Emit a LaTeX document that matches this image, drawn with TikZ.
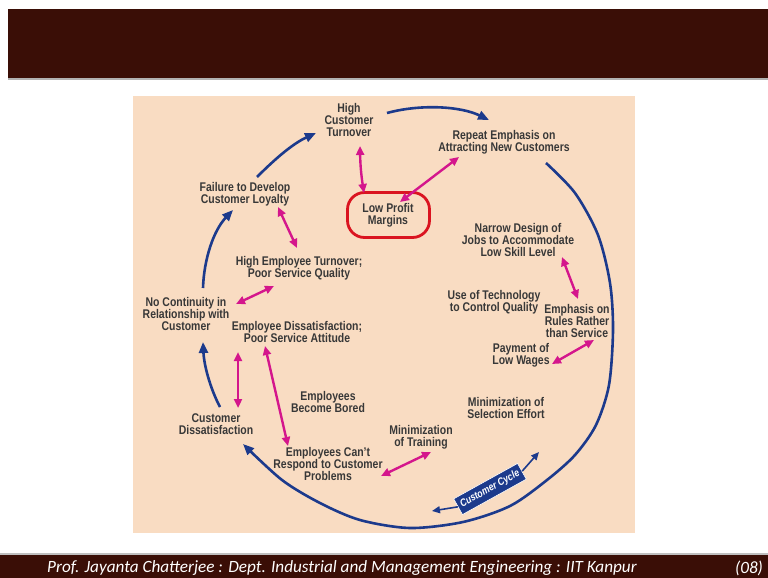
\documentclass[tikz,border=0pt]{standalone}
\usepackage{fontspec}
\setmainfont{Liberation Sans}[FakeStretch=0.83]
\newfontfamily\footfont{Carlito}
\usetikzlibrary{arrows.meta}
\definecolor{barbrown}{HTML}{3A0E06}
\definecolor{peach}{HTML}{F9DCC2}
\definecolor{cycblue}{HTML}{1C3A8C}
\definecolor{mag}{HTML}{D4168C}
\definecolor{lpred}{HTML}{DA1420}
\definecolor{txt}{HTML}{383838}
\begin{document}
\begin{tikzpicture}[x=1pt,y=-1pt,
  lab/.style={font=\bfseries\fontsize{12.6}{12.4}\selectfont, text=txt, align=center, inner sep=0pt},
  bluearr/.style={draw=cycblue, line width=2.6pt, -{Triangle[length=11pt,width=9pt]}},
  magarr/.style={draw=mag, line width=2.4pt, {Triangle[length=9pt,width=8pt]}-{Triangle[length=9pt,width=8pt]}},
]
\useasboundingbox (0,0) rectangle (768,578);
\fill[white] (0,0) rectangle (768,578);
% bars and panel
\fill[barbrown] (8,9) rectangle (768,78);
\fill[gray!60] (8,78) rectangle (768,79.5);
\fill[peach] (133,96) rectangle (635,533);
\fill[gray!50] (0,553) rectangle (768,555);
\fill[barbrown] (0,555) rectangle (768,578);
\node[font=\footfont\itshape\fontsize{17.2}{18}\selectfont, text=white, inner sep=0pt] (foot) at (342,568) {Prof. Jayanta Chatterjee : Dept. Industrial and Management Engineering : IIT Kanpur};
\node[font=\footfont\itshape\fontsize{17.2}{18}\selectfont, text=white, inner sep=0pt] (pg) at (749,568) {(08)};

% labels
\node[lab] (hct) at (349,120) {High\\Customer\\Turnover};
\node[lab] (rep) at (504,142.5) {Repeat Emphasis on\\Attracting New Customers};
\node[lab] (lpm) at (388,215.5) {Low Profit\\Margins};
\node[lab] (fdl) at (245,194) {Failure to Develop\\Customer Loyalty};
\node[lab] (nar) at (518,240) {Narrow Design of\\Jobs to Accommodate\\Low Skill Level};
\node[lab] (het) at (299,268) {High Employee Turnover;\\Poor Service Quality};
\node[lab] (nco) at (186,314) {No Continuity in\\Relationship with\\Customer};
\node[lab] (tec) at (494,302.5) {Use of Technology\\to Control Quality};
\node[lab] (rul) at (577,321) {Emphasis on\\Rules Rather\\than Service};
\node[lab] (eds) at (297,332) {Employee Dissatisfaction;\\Poor Service Attitude};
\node[lab] (pay) at (521,355) {Payment of\\Low Wages};
\node[lab] (bor) at (328,402) {Employees\\Become Bored};
\node[lab] (sel) at (506,408) {Minimization of\\Selection Effort};
\node[lab] (cds) at (216,424) {Customer\\Dissatisfaction};
\node[lab] (trn) at (421,437) {Minimization\\of Training};
\node[lab] (cant) at (328,464) {Employees Can't\\Respond to Customer\\Problems};

% red rounded box around Low Profit Margins
\node[draw=lpred, line width=2.8pt, rounded corners=17pt, minimum width=82pt, minimum height=45pt, inner sep=0pt] (lpbox) at (388.5,215) {};

% blue cycle
\coordinate (hctR) at (387,113);
\coordinate (repL) at (489,120);
\draw[bluearr] (hctR) .. controls (420,104) and (460,106) .. (repL);
\coordinate (repR) at (546,163);
\coordinate (cdsR) at (243,444);
\draw[bluearr] plot[smooth] coordinates {(repR) (575,193) (598,235) (610,283) (613,330) (609,385) (596,425) (575,455) (547,480) (510,506) (463,522) (410,528) (360,520) (320,503) (282,480) (cdsR)};
\coordinate (cdsT) at (220,407);
\coordinate (ncoB) at (203,342);
\draw[bluearr] (cdsT) .. controls (210,388) and (204,365) .. (ncoB);
\coordinate (ncoT) at (203,288);
\coordinate (fdlB) at (233,210);
\draw[bluearr] (ncoT) .. controls (204,258) and (214,230) .. (fdlB);
\coordinate (fdlT) at (257,177);
\coordinate (hctL) at (316,133);
\draw[bluearr] (fdlT) .. controls (274,160) and (292,144) .. (hctL);

% customer cycle tag
\node[fill=cycblue, draw=white, line width=0.6pt, rotate=29, minimum width=73pt, minimum height=18pt, inner sep=1pt, text=white, font=\bfseries\itshape\fontsize{10.5}{11}\selectfont] (cyc) at (490,489) {Customer Cycle};
\coordinate (cycL) at (432,511);
\coordinate (cycR) at (539,452);
\draw[draw=cycblue, line width=1.6pt, -{Triangle[length=8pt,width=7pt]}] (cyc.west) -- (cycL);
\draw[draw=cycblue, line width=1.6pt, -{Triangle[length=8pt,width=7pt]}] (cyc.east) -- (cycR);

% magenta links
\coordinate (m1a) at (360,146); \coordinate (m1b) at (364,193);
\draw[magarr] (m1a) to[bend right=4] (m1b);
\coordinate (m2a) at (400,202); \coordinate (m2b) at (459,157);
\draw[magarr] (m2a) -- (m2b);
\coordinate (m3a) at (278,207); \coordinate (m3b) at (297,248);
\draw[magarr] (m3a) -- (m3b);
\coordinate (m4a) at (236,304); \coordinate (m4b) at (274,286);
\draw[magarr] (m4a) -- (m4b);
\coordinate (m5a) at (562,257); \coordinate (m5b) at (578,299);
\draw[magarr] (m5a) -- (m5b);
\coordinate (m6a) at (552,364); \coordinate (m6b) at (594,340);
\draw[magarr] (m6a) -- (m6b);
\coordinate (m7a) at (238,352); \coordinate (m7b) at (238,408);
\draw[magarr] (m7a) -- (m7b);
\coordinate (m8a) at (265,346); \coordinate (m8b) at (288,446);
\draw[magarr] (m8a) -- (m8b);
\coordinate (m9a) at (381,476); \coordinate (m9b) at (431,452);
\draw[magarr] (m9a) -- (m9b);
\end{tikzpicture}
\end{document}
